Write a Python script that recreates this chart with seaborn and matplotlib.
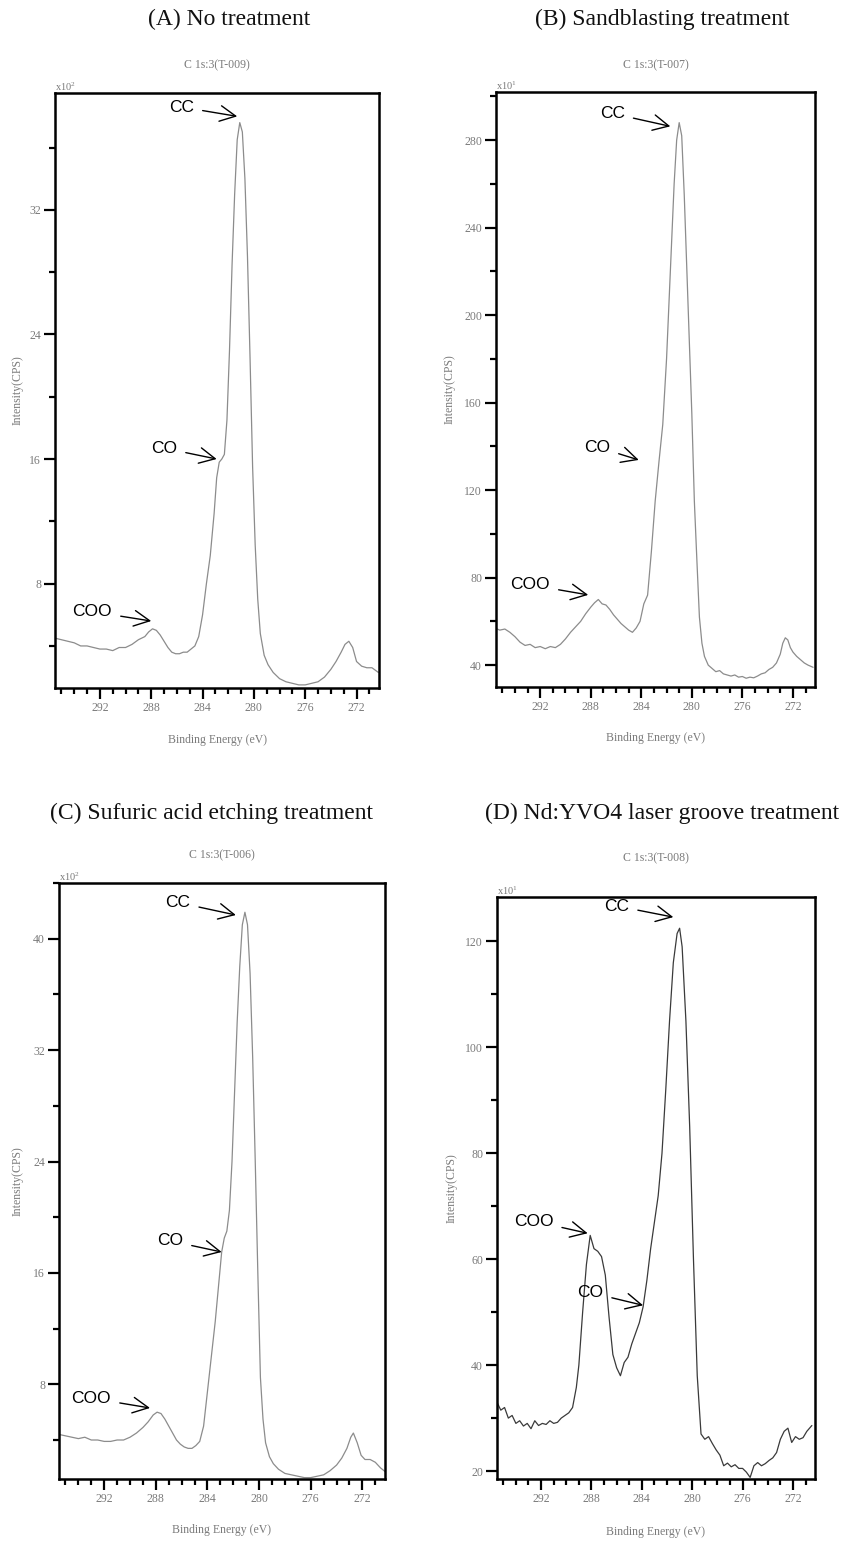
import matplotlib
matplotlib.use('Agg')
import matplotlib.pyplot as plt
from matplotlib.ticker import MultipleLocator
import seaborn as sns

sns.set_theme(style='white')
plt.rcParams['font.family'] = ['Liberation Serif', 'DejaVu Serif']
plt.rcParams['mathtext.default'] = 'regular'

# ---- data ----
energy_a = [295.5, 295.0, 294.5, 294.0, 293.5, 293.0, 292.5, 292.0, 291.5, 291.0, 290.5, 290.0, 289.5,
            289.0, 288.5, 288.2, 287.9, 287.6, 287.3, 287.0, 286.7, 286.4, 286.1, 285.8, 285.5, 285.2,
            284.9, 284.6, 284.3, 284.0, 283.7, 283.4, 283.1, 282.9, 282.7, 282.5, 282.3, 282.1, 281.9,
            281.7, 281.5, 281.3, 281.1, 280.9, 280.7, 280.5, 280.3, 280.1, 279.9, 279.7, 279.5, 279.2,
            278.9, 278.5, 278.0, 277.5, 277.0, 276.5, 276.0, 275.5, 275.0, 274.5, 274.0, 273.6, 273.2,
            272.9, 272.6, 272.3, 272.0, 271.6, 271.2, 270.8, 270.3]
counts_a = [4.5, 4.4, 4.3, 4.2, 4.0, 4.0, 3.9, 3.8, 3.8, 3.7, 3.9, 3.9, 4.1,
            4.4, 4.6, 4.9, 5.1, 5.0, 4.7, 4.3, 3.9, 3.6, 3.5, 3.5, 3.6, 3.6,
            3.8, 4.0, 4.6, 6.0, 8.0, 9.8, 12.5, 14.8, 15.8, 16.0, 16.3, 18.5, 23.0,
            28.5, 33.0, 36.5, 37.6, 37.0, 34.0, 29.0, 22.5, 15.5, 10.5, 7.0, 4.8, 3.4,
            2.8, 2.3, 1.9, 1.7, 1.6, 1.5, 1.5, 1.6, 1.7, 2.0, 2.5, 3.0, 3.6,
            4.1, 4.3, 3.9, 3.0, 2.7, 2.6, 2.6, 2.3]

energy_b = [295.6, 295.2, 294.8, 294.4, 294.0, 293.6, 293.2, 292.8, 292.4, 292.0, 291.6, 291.2, 290.8,
            290.4, 290.0, 289.6, 289.2, 288.8, 288.4, 288.0, 287.7, 287.4, 287.1, 286.8, 286.5, 286.2,
            285.9, 285.6, 285.3, 285.0, 284.7, 284.4, 284.1, 283.8, 283.5, 283.2, 282.9, 282.6, 282.3,
            282.0, 281.7, 281.4, 281.2, 281.0, 280.8, 280.6, 280.3, 280.0, 279.8, 279.6, 279.4, 279.2,
            279.0, 278.7, 278.4, 278.1, 277.8, 277.5, 277.2, 276.9, 276.6, 276.3, 276.0, 275.7, 275.4,
            275.1, 274.8, 274.5, 274.2, 273.9, 273.6, 273.3, 273.0, 272.8, 272.6, 272.4, 272.2, 272.0,
            271.7, 271.4, 271.1, 270.8, 270.4]
counts_b = [57.0, 56.0, 56.5, 55.0, 53.0, 50.5, 49.0, 49.5, 48.0, 48.5, 47.5, 48.5, 48.0,
            49.5, 52.0, 55.0, 57.5, 60.0, 63.5, 66.5, 68.5, 70.0, 68.0, 67.5, 65.5, 63.0,
            61.0, 59.0, 57.5, 56.0, 55.0, 57.0, 60.0, 68.0, 72.0, 92.0, 115.0, 133.0, 150.0,
            180.0, 220.0, 260.0, 280.0, 288.0, 282.0, 255.0, 205.0, 155.0, 115.0, 88.0, 62.0, 50.0,
            44.0, 40.0, 38.5, 37.0, 37.5, 36.0, 35.5, 35.0, 35.5, 34.5, 34.8, 34.0, 34.5,
            34.2, 35.0, 36.0, 36.5, 38.0, 39.0, 41.0, 45.0, 50.0, 52.5, 51.5, 48.0, 46.0,
            44.0, 42.5, 41.0, 40.0, 39.0]

energy_c = [295.5, 295.0, 294.5, 294.0, 293.5, 293.0, 292.5, 292.0, 291.5, 291.0, 290.5, 290.0, 289.5,
            289.0, 288.6, 288.2, 287.9, 287.6, 287.3, 287.0, 286.7, 286.4, 286.1, 285.8, 285.5, 285.2,
            284.9, 284.6, 284.3, 284.0, 283.7, 283.4, 283.1, 282.9, 282.7, 282.5, 282.3, 282.1, 281.9,
            281.7, 281.5, 281.3, 281.1, 280.9, 280.7, 280.5, 280.3, 280.1, 279.9, 279.7, 279.5, 279.2,
            278.9, 278.5, 278.0, 277.5, 277.0, 276.5, 276.0, 275.5, 275.0, 274.5, 274.0, 273.6, 273.2,
            272.9, 272.7, 272.4, 272.1, 271.8, 271.4, 271.0, 270.6, 270.2]
counts_c = [4.4, 4.3, 4.2, 4.1, 4.2, 4.0, 4.0, 3.9, 3.9, 4.0, 4.0, 4.2, 4.5,
            4.9, 5.3, 5.8, 6.0, 5.9, 5.5, 5.0, 4.5, 4.0, 3.7, 3.5, 3.4, 3.4,
            3.6, 3.9, 5.0, 7.5, 10.0, 12.5, 15.5, 17.5, 18.5, 19.0, 20.5, 24.0, 29.0,
            34.0, 38.0, 41.0, 41.9, 41.0, 37.5, 31.5, 24.0, 16.0, 8.5, 5.5, 3.8, 2.8,
            2.3, 1.9, 1.6, 1.5, 1.4, 1.3, 1.3, 1.4, 1.5, 1.8, 2.2, 2.7, 3.4,
            4.2, 4.5, 3.8, 2.9, 2.6, 2.6, 2.4, 2.0, 1.7]

energy_d = [295.5, 295.2, 294.9, 294.6, 294.3, 294.0, 293.7, 293.4, 293.1, 292.8, 292.5, 292.2, 291.9,
            291.6, 291.3, 291.0, 290.7, 290.4, 290.1, 289.8, 289.5, 289.2, 289.0, 288.7, 288.4, 288.1,
            287.8, 287.5, 287.2, 286.9, 286.6, 286.3, 286.0, 285.7, 285.4, 285.1, 284.8, 284.5, 284.2,
            283.9, 283.6, 283.3, 283.0, 282.7, 282.4, 282.1, 281.8, 281.5, 281.2, 281.0, 280.8, 280.5,
            280.2, 279.9, 279.6, 279.3, 279.0, 278.7, 278.4, 278.1, 277.8, 277.5, 277.2, 276.9, 276.6,
            276.3, 276.0, 275.7, 275.4, 275.1, 274.8, 274.5, 274.2, 273.9, 273.6, 273.3, 273.0, 272.7,
            272.4, 272.1, 271.8, 271.5, 271.2, 270.9, 270.5]
counts_d = [33.0, 31.5, 32.0, 30.0, 30.5, 29.0, 29.5, 28.5, 29.0, 28.0, 29.5, 28.6, 29.0,
            28.8, 29.5, 29.0, 29.2, 30.0, 30.5, 31.0, 32.0, 35.8, 40.0, 50.0, 59.0, 64.5,
            62.0, 61.5, 60.5, 57.0, 49.0, 42.0, 39.5, 38.0, 40.5, 41.5, 44.0, 46.0, 48.0,
            51.0, 56.0, 62.0, 67.0, 72.0, 80.0, 92.0, 105.0, 116.0, 121.5, 122.5, 119.0, 105.0,
            85.0, 60.0, 38.0, 27.0, 26.0, 26.5, 25.2, 24.0, 23.0, 21.0, 21.5, 20.8, 21.2,
            20.5, 20.5, 19.8, 18.8, 21.0, 21.6, 21.0, 21.4, 22.0, 22.5, 23.5, 26.0, 27.5,
            28.1, 25.4, 26.5, 26.0, 26.3, 27.5, 28.6]

# annotation anchors: label, text (E, I), arrow tip (E, I)
notes_a = [('CC', 285.65, 38.6, 281.3, 38.0), ('CO', 287.0, 16.7, 282.9, 16.0), ('COO', 292.6, 6.2, 288.0, 5.6)]
notes_b = [('CC', 286.3, 292.2, 281.7, 286.3), ('CO', 287.5, 139.7, 284.2, 133.8), ('COO', 292.8, 76.7, 288.2, 72.1)]
notes_c = [('CC', 286.3, 42.6, 281.8, 41.7), ('CO', 286.9, 18.3, 282.9, 17.5), ('COO', 293.0, 7.0, 288.45, 6.3)]
notes_d = [('CC', 286.0, 126.7, 281.5, 124.6), ('COO', 292.6, 67.2, 288.3, 64.9), ('CO', 288.1, 53.7, 283.9, 51.3)]

W, H = 850, 1541
fig = plt.figure(figsize=(W / 100, H / 100), dpi=100)
grey = '#7a7a7a'


def px_axes(l, t, r, b):
    return fig.add_axes([l / W, 1 - b / H, (r - l) / W, (b - t) / H])


panels = [
    dict(box=(55, 93, 379, 688), e=energy_a, c=counts_a, ylim=(1.3, 39.5), major=8, minor=4,
         line='#8c8c8c', exp='2', sample='T-009', title='(A) No treatment', tx=229, ty=19, sy=65,
         iy=18, by=740, notes=notes_a),
    dict(box=(496, 92, 815, 687), e=energy_b, c=counts_b, ylim=(30, 302), major=40, minor=20,
         line='#8c8c8c', exp='1', sample='T-007', title='(B) Sandblasting treatment', tx=662, ty=19, sy=65,
         iy=450, by=738, notes=notes_b),
    dict(box=(59, 883, 385, 1479), e=energy_c, c=counts_c, ylim=(1.2, 44.0), major=8, minor=4,
         line='#8c8c8c', exp='2', sample='T-006', title='(C) Sufuric acid etching treatment', tx=212, ty=813,
         sy=855, iy=18, by=1530, notes=notes_c),
    dict(box=(497, 897, 815, 1479), e=energy_d, c=counts_d, ylim=(18.5, 128.4), major=20, minor=10,
         line='#3a3a3a', exp='1', sample='T-008', title='(D) Nd:YVO4 laser groove treatment', tx=662, ty=813,
         sy=858, iy=452, by=1532, notes=notes_d),
]

for p in panels:
    l, t, r, b = p['box']
    ax = px_axes(l, t, r, b)
    sns.lineplot(x=p['e'], y=p['c'], ax=ax, color=p['line'], linewidth=0.9)
    ax.set_xlim(295.5, 270.25)
    ax.set_ylim(*p['ylim'])
    ax.xaxis.set_major_locator(MultipleLocator(4))
    ax.xaxis.set_minor_locator(MultipleLocator(1))
    ax.yaxis.set_major_locator(MultipleLocator(p['major']))
    ax.yaxis.set_minor_locator(MultipleLocator(p['minor']))
    ax.tick_params(which='both', direction='out', bottom=True, left=True, top=False, right=False,
                   color='black', width=1.6, labelsize=8.5, labelcolor=grey, pad=2)
    ax.tick_params(which='major', length=8)
    ax.tick_params(which='minor', length=4.5)
    ax.set_xlabel('')
    ax.set_ylabel('')
    for s in ax.spines.values():
        s.set_color('black')
        s.set_linewidth(1.8)

    for lab, te, tv, ae, av in p['notes']:
        ax.annotate(lab, xy=(ae, av), xytext=(te, tv), ha='center', va='center', fontsize=12.5,
                    family=['Liberation Sans', 'DejaVu Sans'], color='black',
                    arrowprops=dict(arrowstyle='->,head_length=0.9,head_width=0.45', color='black',
                                    lw=1.0, shrinkA=4, shrinkB=0))

    ax.text(0.0, 1.0, 'x10$^{' + p['exp'] + '}$', transform=ax.transAxes, ha='left', va='bottom',
            fontsize=7.5, color=grey)
    cx = (l + r) / 2 / W
    fig.text(cx, 1 - p['sy'] / H, 'C 1s:3(' + p['sample'] + ')', ha='center', va='center',
             fontsize=8.5, color=grey)
    fig.text(cx, 1 - p['by'] / H, 'Binding Energy (eV)', ha='center', va='center', fontsize=8.5, color=grey)
    fig.text(p['iy'] / W, 1 - (t + b) / 2 / H, 'Intensity(CPS)', rotation=90, ha='center', va='center',
             fontsize=8.5, color=grey)
    fig.text(p['tx'] / W, 1 - p['ty'] / H, p['title'], ha='center', va='center', fontsize=17,
             color='#111111')

fig.savefig('out.png', dpi=100)
